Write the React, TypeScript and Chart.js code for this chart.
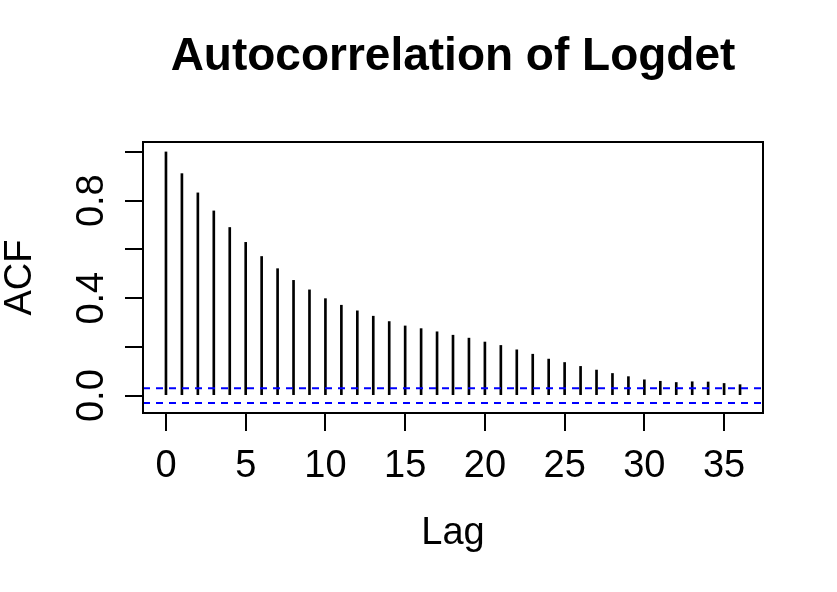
import React, { useEffect, useRef } from "react";
import { Chart, registerables } from "chart.js";

Chart.register(...registerables);

const chartTitle = "Autocorrelation of Logdet";
const xAxisTitle = "Lag";
const yAxisTitle = "ACF";

const lags = [
  0, 1, 2, 3, 4, 5, 6, 7, 8, 9, 10, 11, 12, 13, 14, 15, 16, 17, 18, 19, 20,
  21, 22, 23, 24, 25, 26, 27, 28, 29, 30, 31, 32, 33, 34, 35, 36,
];
const acfValues = [
  1.0, 0.911, 0.832, 0.758, 0.69, 0.629, 0.571, 0.521, 0.473, 0.434, 0.398,
  0.371, 0.348, 0.326, 0.304, 0.286, 0.275, 0.262, 0.248, 0.236, 0.22, 0.206,
  0.188, 0.17, 0.15, 0.136, 0.12, 0.105, 0.091, 0.078, 0.065, 0.059, 0.054,
  0.057, 0.056, 0.05, 0.045,
];
const ciBound = 0.0306;

const xTickValues = [0, 5, 10, 15, 20, 25, 30, 35];
const xTickLabels = ["0", "5", "10", "15", "20", "25", "30", "35"];
const yTickValues = [0, 0.2, 0.4, 0.6, 0.8, 1.0];
const yTickLabels = ["0.0", "", "0.4", "", "0.8", ""];

const xMin = -1.44;
const xMax = 37.44;
const yMin = -0.0712;
const yMax = 1.0408;

const FONT = '"Liberation Sans", Arial, Helvetica, sans-serif';

const decorPlugin = {
  id: "rDecor",
  afterDraw(chart: any) {
    const { ctx, chartArea } = chart;
    const xs = chart.scales.x;
    const ys = chart.scales.y;
    ctx.save();
    // box
    ctx.strokeStyle = "#000";
    ctx.lineWidth = 2;
    ctx.strokeRect(
      chartArea.left,
      chartArea.top,
      chartArea.right - chartArea.left,
      chartArea.bottom - chartArea.top
    );
    ctx.fillStyle = "#000";
    // x tick labels
    ctx.font = `38px ${FONT}`;
    ctx.textAlign = "center";
    ctx.textBaseline = "alphabetic";
    xTickValues.forEach((v, i) => {
      ctx.fillText(xTickLabels[i], xs.getPixelForValue(v), chartArea.bottom + 64);
    });
    // y tick labels (rotated)
    yTickValues.forEach((v, i) => {
      if (!yTickLabels[i]) return;
      ctx.save();
      ctx.translate(chartArea.left - 40, ys.getPixelForValue(v));
      ctx.rotate(-Math.PI / 2);
      ctx.fillText(yTickLabels[i], 0, 0);
      ctx.restore();
    });
    // axis titles
    const cx = (chartArea.left + chartArea.right) / 2;
    const cy = (chartArea.top + chartArea.bottom) / 2;
    ctx.fillText(xAxisTitle, cx, 544);
    ctx.save();
    ctx.translate(31, cy);
    ctx.rotate(-Math.PI / 2);
    ctx.fillText(yAxisTitle, 0, 0);
    ctx.restore();
    // main title
    ctx.font = `bold 46px ${FONT}`;
    ctx.fillText(chartTitle, cx, 70);
    ctx.restore();
  },
};

export default function App() {
  const canvasRef = useRef<HTMLCanvasElement | null>(null);

  useEffect(() => {
    const canvas = canvasRef.current;
    if (!canvas) return;
    const chart = new Chart(canvas, {
      type: "bar",
      data: {
        datasets: [
          {
            type: "line",
            data: [
              { x: xMin, y: ciBound },
              { x: xMax, y: ciBound },
            ],
            borderColor: "#0000FF",
            borderWidth: 2,
            borderDash: [7, 6],
            pointRadius: 0,
            fill: false,
          } as any,
          {
            type: "line",
            data: [
              { x: xMin, y: -ciBound },
              { x: xMax, y: -ciBound },
            ],
            borderColor: "#0000FF",
            borderWidth: 2,
            borderDash: [7, 6],
            pointRadius: 0,
            fill: false,
          } as any,
          {
            type: "bar",
            data: lags.map((l, i) => ({ x: l, y: acfValues[i] })),
            backgroundColor: "#000",
            borderWidth: 0,
            barThickness: 2,
          } as any,
        ],
      },
      options: {
        animation: false,
        responsive: false,
        devicePixelRatio: 1,
        events: [],
        layout: { padding: { left: 0, top: 142, right: 74, bottom: 179 } },
        plugins: {
          legend: { display: false },
          tooltip: { enabled: false },
          title: { display: false },
        },
        scales: {
          x: {
            type: "linear",
            min: xMin,
            max: xMax,
            offset: false,
            afterFit: (s: any) => {
              s.height = 0;
            },
            afterBuildTicks: (s: any) => {
              s.ticks = xTickValues.map((v) => ({ value: v }));
            },
            ticks: { display: false },
            border: { display: false },
            grid: {
              display: true,
              offset: false,
              drawOnChartArea: false,
              drawTicks: true,
              tickLength: 18,
              color: "#000",
              lineWidth: 2,
            },
          },
          y: {
            type: "linear",
            min: yMin,
            max: yMax,
            afterFit: (s: any) => {
              s.width = 143;
            },
            afterBuildTicks: (s: any) => {
              s.ticks = yTickValues.map((v) => ({ value: v }));
            },
            ticks: { display: false },
            border: { display: false },
            grid: {
              display: true,
              drawOnChartArea: false,
              drawTicks: true,
              tickLength: 18,
              color: "#000",
              lineWidth: 2,
            },
          },
        },
      } as any,
      plugins: [decorPlugin],
    });
    return () => chart.destroy();
  }, []);

  return (
    <div
      style={{
        position: "fixed",
        left: 0,
        top: 0,
        width: 837,
        height: 592,
        background: "#fff",
      }}
    >
      <canvas
        ref={canvasRef}
        width={837}
        height={592}
        style={{ width: 837, height: 592, display: "block" }}
      />
    </div>
  );
}
